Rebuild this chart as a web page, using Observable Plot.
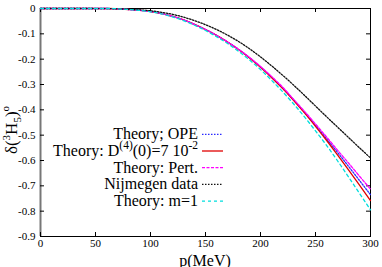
<!DOCTYPE html>
<html><head><meta charset="utf-8">
<script src="https://cdn.jsdelivr.net/npm/d3@7"></script>
<script src="https://cdn.jsdelivr.net/npm/@observablehq/plot@0.6"></script>
<style>
body{margin:0;background:#fff;overflow:hidden}
svg, svg text {font-family: "Liberation Serif", "Times New Roman", serif !important;}
</style>
</head><body><div id="chart"></div>
<script>
// momentum p (MeV)
const p = [0,20,40,60,80,100,110,120,130,140,150,160,170,180,190,200,210,220,230,240,250,260,270,280,290,300];
// phase shifts (degrees)
const ope      = [0,0,0,0,-0.004,-0.012,-0.02,-0.031,-0.045,-0.063,-0.083,-0.106,-0.132,-0.161,-0.194,-0.231,-0.271,-0.314,-0.36,-0.41,-0.461,-0.514,-0.568,-0.623,-0.679,-0.735];
const d4       = [0,0,0,0,-0.004,-0.012,-0.02,-0.031,-0.045,-0.063,-0.083,-0.106,-0.132,-0.162,-0.195,-0.232,-0.272,-0.315,-0.362,-0.412,-0.465,-0.52,-0.578,-0.637,-0.697,-0.758];
const pert     = [0,0,0,0,-0.004,-0.012,-0.02,-0.031,-0.045,-0.063,-0.083,-0.106,-0.132,-0.161,-0.193,-0.229,-0.268,-0.31,-0.358,-0.406,-0.456,-0.507,-0.559,-0.61,-0.662,-0.713];
const nijmegen = [0,0,0,-0.0005,-0.003,-0.009,-0.015,-0.023,-0.034,-0.048,-0.064,-0.083,-0.105,-0.13,-0.159,-0.191,-0.226,-0.263,-0.302,-0.343,-0.385,-0.427,-0.468,-0.509,-0.55,-0.59];
const m1       = [0,0,0,0,-0.004,-0.013,-0.021,-0.033,-0.048,-0.066,-0.087,-0.111,-0.138,-0.169,-0.203,-0.241,-0.283,-0.328,-0.376,-0.428,-0.483,-0.54,-0.601,-0.665,-0.73,-0.795];

const seriesValues = [ope, d4, pert, nijmegen, m1];
const seriesColors = ["#2a2aff", "#e00000", "#ff00ff", "#111111", "#00dede"];
const seriesDash   = ["1.5,1.5", null, "3,1.5", "1.5,1.5", "3,3"];
const xTicks = [0,50,100,150,200,250,300];
const yTicks = [0,-0.1,-0.2,-0.3,-0.4,-0.5,-0.6,-0.7,-0.8,-0.9];

const W = 382, H = 267, mL = 40, mR = 12, mT = 8, mB = 31;
const innerW = W - mL - mR, innerH = H - mT - mB;
const serif = "'Liberation Serif', serif";

const lineMarks = seriesValues.map((vals, i) =>
  Plot.line(p.map((x, j) => ({p: x, v: vals[j]})), {
    x: "p", y: "v", stroke: seriesColors[i], strokeWidth: 1.3, curve: "monotone-x",
    strokeDasharray: seriesDash[i] || undefined
  }));

const chart = Plot.plot({
  width: W, height: H,
  marginLeft: mL, marginRight: mR, marginTop: mT, marginBottom: mB,
  x: {domain: [0, 300]},
  y: {domain: [-0.9, 0]},
  style: {fontFamily: serif, background: "white", color: "black"},
  marks: [
    Plot.frame({stroke: "black", strokeWidth: 1}),
    Plot.ruleX([0], {stroke: "#777", strokeWidth: 2}),
    Plot.tickY(yTicks, {y: d => d, insetRight: innerW - 4, stroke: "black"}),
    Plot.tickY(yTicks, {y: d => d, insetLeft: innerW - 4, stroke: "black"}),
    Plot.tickX(xTicks, {x: d => d, insetTop: innerH - 4, stroke: "black"}),
    Plot.tickX(xTicks, {x: d => d, insetBottom: innerH - 4, stroke: "black"}),
    Plot.axisX(xTicks, {tickSize: 0, tickPadding: 3, fontSize: 11, fontFamily: serif, label: null, tickFormat: d => String(d)}),
    Plot.axisY(yTicks, {tickSize: 0, tickPadding: 5, fontSize: 11, fontFamily: serif, label: null, tickFormat: d => d === 0 ? "0" : d.toFixed(1)}),
    ...lineMarks
  ]
});
document.getElementById("chart").appendChild(chart);

const svg = d3.select(chart);
// axis titles
svg.append("text").attr("x", 205).attr("y", 266).attr("text-anchor", "middle")
  .attr("font-family", serif).attr("font-size", 16).attr("fill", "black").text("p(MeV)");
const yl = svg.append("text").attr("transform", "translate(17,130) rotate(-90)")
  .attr("font-family", serif).attr("text-anchor", "middle").attr("font-size", 17).attr("fill", "black");
yl.append("tspan").text("δ(");
yl.append("tspan").attr("font-size", 11).attr("dy", -7).text("3");
yl.append("tspan").attr("dy", 7).text("H");
yl.append("tspan").attr("font-size", 11).attr("dy", 4).text("5");
yl.append("tspan").attr("dy", -4).text(")");
yl.append("tspan").attr("font-size", 11).attr("dy", -8).text("o");

// legend
const legendLabels = [
  [["Theory; OPE", 0]],
  [["Theory: D", 0], ["(4)", 1], ["(0)=7 10", 0], ["-2", 1]],
  [["Theory: Pert.", 0]],
  [["Nijmegen data", 0]],
  [["Theory: m=1", 0]]
];
const lg = svg.append("g").attr("font-size", 16).attr("font-family", serif).attr("fill", "black");
legendLabels.forEach((parts, i) => {
  const y = 134.3 + i * 16.7;
  const t = lg.append("text").attr("x", 198).attr("y", y).attr("dy", "0.3em").attr("text-anchor", "end");
  let shifted = false;
  parts.forEach(([s, sup]) => {
    const ts = t.append("tspan").text(s);
    if (sup && !shifted) { ts.attr("font-size", 11.5).attr("dy", -6.5); shifted = true; }
    else if (!sup && shifted) { ts.attr("dy", 6.5); shifted = false; }
    else if (sup) ts.attr("font-size", 11.5);
  });
  lg.append("line").attr("x1", 202).attr("x2", 223).attr("y1", y).attr("y2", y)
    .attr("stroke", seriesColors[i]).attr("stroke-width", 1.3)
    .attr("stroke-dasharray", seriesDash[i]);
});
</script>
</body></html>
